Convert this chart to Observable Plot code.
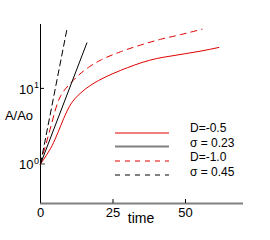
<!DOCTYPE html>
<html>
<head>
<meta charset="utf-8">
<script src="https://cdn.jsdelivr.net/npm/d3@7"></script>
<script src="https://cdn.jsdelivr.net/npm/@observablehq/plot@0.6"></script>
<style>
  html, body { margin: 0; padding: 0; background: #fff; }
  #chart { width: 270px; height: 240px; }
</style>
</head>
<body>
<div id="chart"></div>
<script>
// Growth ratio A/Ao over time
const tBlackSolid = [0, 16];
const vBlackSolid = [1, 40];
const tBlackDash = [0, 9.2];
const vBlackDash = [1, 63];
const tRedSolid = [0, 2, 4, 6, 8, 10, 12, 14, 17, 20, 25, 30, 35, 40, 45, 50, 55, 61.5];
const vRedSolid = [1, 1.3, 1.75, 2.6, 4.0, 5.8, 7.4, 8.8, 10.8, 12.7, 15.7, 18.8, 22, 24.8, 26.8, 28.8, 31, 34.8];
const tRedDash = [0, 1, 2, 3, 4, 5, 6, 7, 8, 10, 13, 17, 20.7, 27.6, 34.5, 41.4, 48.3, 55.7];
const vRedDash = [1, 1.4, 1.9, 2.6, 3.6, 5.0, 6.6, 8.0, 9.2, 11.3, 14.8, 19.5, 23.6, 30.5, 37.4, 44.6, 51.4, 60.6];

const xTicks = [0, 25, 50];
const yTicks = [1, 10];
const legendLabels = ["D=-0.5", "\u03C3 = 0.23", "D=-1.0", "\u03C3 = 0.45"];
const legendColors = ["#e00000", "#808080", "#e00000", "#808080"];
const legendDash = [null, null, "5,5", "5,5"];
const legendWidths = [1, 2, 1, 2];

const zip = (ts, vs) => ts.map((t, i) => ({t, v: vs[i]}));
const blackSolid = zip(tBlackSolid, vBlackSolid);
const blackDash = zip(tBlackDash, vBlackDash);
const redSolid = zip(tRedSolid, vRedSolid);
const redDash = zip(tRedDash, vRedDash);

const W = 270, H = 240;
const mL = 40, mR = 27, mT = 24, mB = 37;
const innerW = W - mL - mR, innerH = H - mT - mB;
const FONT = "'Liberation Sans', Arial, sans-serif";

const chart = Plot.plot({
  width: W,
  height: H,
  marginLeft: mL,
  marginRight: mR,
  marginTop: mT,
  marginBottom: mB,
  style: {fontFamily: FONT, fontSize: "13px", background: "#fff", color: "#000"},
  x: {domain: [0, 70], label: null, axis: null},
  y: {type: "log", domain: [0.3, 70], label: null, axis: null},
  marks: [
    // axes lines
    Plot.ruleY([0.3], {stroke: "#808080", strokeWidth: 2}),
    Plot.ruleX([0], {stroke: "#000", strokeWidth: 1}),
    // ticks
    Plot.ruleX([25, 50], {stroke: "#000", insetTop: innerH - 4}),
    Plot.ruleY([1], {stroke: "#808080", strokeWidth: 1.5, insetRight: innerW - 5}),
    Plot.ruleY([10], {stroke: "#000", insetRight: innerW - 4}),
    // x tick labels
    Plot.axisX({ticks: xTicks, tickSize: 0, tickPadding: 4, fontSize: 13, tickFormat: d => String(d), label: null}),
    // y tick labels: 10 with superscript exponent
    Plot.text(yTicks, {y: d => d, frameAnchor: "left", text: () => "10", textAnchor: "end", dx: -7, dy: 1, fontSize: 13}),
    Plot.text(yTicks, {y: d => d, frameAnchor: "left", text: d => String(Math.round(Math.log10(d))), textAnchor: "start", dx: -6.5, dy: -3, fontSize: 9}),
    // data lines
    Plot.line(redSolid, {x: "t", y: "v", stroke: "#e00000", strokeWidth: 1, curve: "monotone-x"}),
    Plot.line(redDash, {x: "t", y: "v", stroke: "#e00000", strokeWidth: 1, strokeDasharray: "6,5", curve: "monotone-x"}),
    Plot.line(blackSolid, {x: "t", y: "v", stroke: "#000", strokeWidth: 1}),
    Plot.line(blackDash, {x: "t", y: "v", stroke: "#000", strokeWidth: 1, strokeDasharray: "6,4"})
  ]
});

const svg = d3.select(chart);
// axis titles
svg.append("text").attr("x", 141).attr("y", 223).attr("text-anchor", "middle")
  .attr("font-family", FONT).attr("font-size", 14).text("time");
svg.append("text").attr("x", 19).attr("y", 120).attr("text-anchor", "middle")
  .attr("font-family", FONT).attr("font-size", 13).text("A/Ao");

// legend
const lineY = [133, 146.5, 161, 175];
const textY = [132, 147, 160.5, 175.5];
const lg = svg.append("g");
legendLabels.forEach((lab, i) => {
  const ln = lg.append("line").attr("x1", 115).attr("x2", 169).attr("y1", lineY[i]).attr("y2", lineY[i])
    .attr("stroke", legendColors[i]).attr("stroke-width", legendWidths[i]);
  if (legendDash[i]) ln.attr("stroke-dasharray", legendDash[i]);
  lg.append("text").attr("x", 190).attr("y", textY[i]).attr("text-anchor", "start")
    .attr("font-family", FONT).attr("font-size", 12).text(lab);
});

document.getElementById("chart").appendChild(chart);
</script>
</body>
</html>
